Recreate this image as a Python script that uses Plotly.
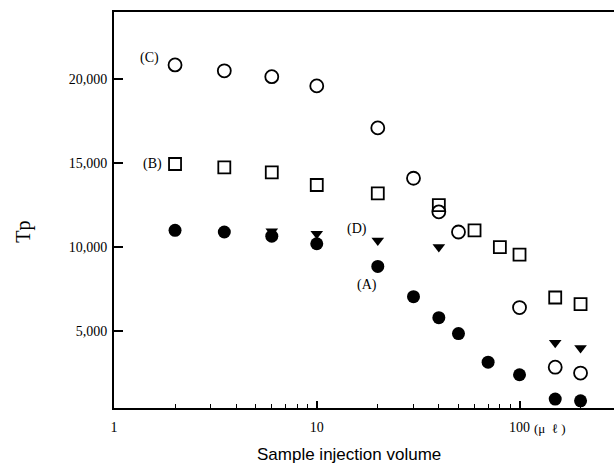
import plotly.graph_objects as go

# Data
vol_A = [2, 3.5, 6, 10, 20, 30, 40, 50, 70, 100, 150, 200]
tp_A = [11000, 10900, 10650, 10200, 8850, 7050, 5800, 4850, 3150, 2400, 950, 850]

vol_B = [2, 3.5, 6, 10, 20, 40, 60, 80, 100, 150, 200]
tp_B = [14950, 14750, 14450, 13700, 13200, 12500, 11000, 10000, 9550, 7000, 6600]

vol_C = [2, 3.5, 6, 10, 20, 30, 40, 50, 100, 150, 200]
tp_C = [20850, 20500, 20150, 19600, 17100, 14100, 12100, 10900, 6400, 2850, 2500]

vol_D = [6, 10, 20, 40, 150, 200]
tp_D = [10950, 10800, 10400, 10000, 4300, 4000]

y_tickvals = [5000, 10000, 15000, 20000]
y_ticktext = ["5,000", "10,000", "15,000", "20,000"]
x_tickvals = [1, 10, 100]
x_ticktext = ["1", "10", "100"]
x_minor = [2, 3, 4, 5, 6, 7, 8, 9, 20, 30, 40, 50, 60, 70, 80, 90, 200]

serif = "Liberation Serif, Times New Roman, serif"

fig = go.Figure()
fig.add_trace(go.Scatter(x=vol_C, y=tp_C, mode="markers", name="C",
                         marker=dict(symbol="circle-open", size=13, color="black",
                                     line=dict(width=1.8, color="black"))))
fig.add_trace(go.Scatter(x=vol_B, y=tp_B, mode="markers", name="B",
                         marker=dict(symbol="square-open", size=12, color="black",
                                     line=dict(width=1.8, color="black"))))
fig.add_trace(go.Scatter(x=vol_D, y=tp_D, mode="markers", name="D",
                         marker=dict(symbol="triangle-down", size=11, color="black")))
fig.add_trace(go.Scatter(x=vol_A, y=tp_A, mode="markers", name="A",
                         marker=dict(symbol="circle", size=13, color="black")))

labels = [("(C)", 0.071, 0.884), ("(B)", 0.077, 0.616),
          ("(D)", 0.4865, 0.452), ("(A)", 0.5065, 0.311)]
for txt, px, py in labels:
    fig.add_annotation(text=txt, x=px, y=py, xref="paper", yref="paper",
                       xanchor="center", yanchor="middle",
                       showarrow=False, font=dict(family=serif, size=14, color="black"))

fig.add_annotation(text="(μ  ℓ )", x=2, xref="x", y=0, yref="paper",
                   xanchor="left", yanchor="top", xshift=12, yshift=-11,
                   showarrow=False, font=dict(family=serif, size=13, color="black"))

# axis titles as positioned text
fig.add_annotation(text="Tp", x=-0.18, y=0.445, xref="paper", yref="paper",
                   xanchor="center", yanchor="middle",
                   textangle=-90, showarrow=False,
                   font=dict(family=serif, size=20, color="black"))
fig.add_annotation(text="Sample injection volume", x=0.47, y=-0.118,
                   xref="paper", yref="paper", xanchor="center", yanchor="middle",
                   showarrow=False,
                   font=dict(family="Liberation Sans, Arial, sans-serif",
                             size=17, color="black"))

fig.update_xaxes(type="log", range=[0, 2.466], automargin=False,
                 tickvals=x_tickvals, ticktext=x_ticktext,
                 ticks="inside", ticklen=7, tickwidth=1.5, tickcolor="black",
                 ticklabelstandoff=5,
                 minor=dict(tickvals=x_minor, ticks="inside", ticklen=4,
                            tickwidth=1, tickcolor="black", showgrid=False),
                 showline=True, linecolor="black", linewidth=2, mirror=True,
                 showgrid=False, zeroline=False,
                 tickfont=dict(family=serif, size=14, color="black"))
fig.update_yaxes(range=[420, 24000], automargin=False,
                 tickvals=y_tickvals, ticktext=y_ticktext,
                 ticks="inside", ticklen=9, tickwidth=2, tickcolor="black",
                 ticklabelstandoff=2,
                 showline=True, linecolor="black", linewidth=2, mirror=False,
                 showgrid=False, zeroline=False,
                 tickfont=dict(family=serif, size=14, color="black"))

fig.update_layout(width=614, height=470,
                  margin=dict(l=114, r=0, t=12, b=62),
                  paper_bgcolor="white", plot_bgcolor="white",
                  showlegend=False)

fig.write_html("out.html", config={"displayModeBar": False},
               post_script="document.body.style.margin='0';")
